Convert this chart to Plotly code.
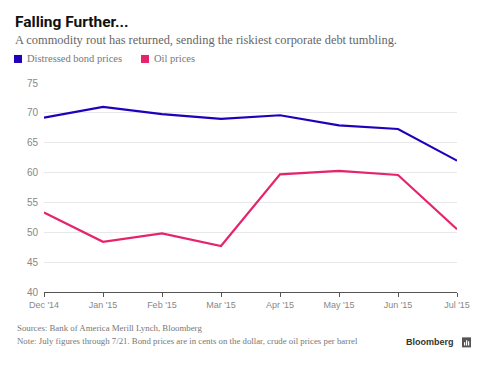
import plotly.graph_objects as go

months = ["Dec '14", "Jan '15", "Feb '15", "Mar '15", "Apr '15", "May '15", "Jun '15", "Jul '15"]
bond_prices = [69.2, 71.0, 69.8, 69.0, 69.6, 67.9, 67.3, 62.0]
oil_prices = [53.3, 48.4, 49.8, 47.7, 59.7, 60.3, 59.6, 50.5]
y_ticks = [40, 45, 50, 55, 60, 65, 70, 75]

BLUE = "#2200BB"
PINK = "#E5246C"

# page body has an 8px margin; work in reference (window) coordinates
OFF = 8
W, H = 488 - OFF, 365 - OFF
PL, PR, PT, PB = 44, 457, 83, 291.7   # plot area in window coords
L, T = PL - OFF, PT - OFF
R, B = W - (PR - OFF), H - (PB - OFF)
PW, PH = PR - PL, PB - PT

def px(x):
    return (x - PL) / PW

def py(y):
    return (PB - y) / PH

x_idx = list(range(len(months)))

fig = go.Figure()
fig.add_trace(go.Scatter(x=x_idx, y=bond_prices, mode="lines", name="Distressed bond prices",
                         line=dict(color=BLUE, width=2.2), hoverinfo="skip"))
fig.add_trace(go.Scatter(x=x_idx, y=oil_prices, mode="lines", name="Oil prices",
                         line=dict(color=PINK, width=2.2), hoverinfo="skip"))

serif = "Liberation Serif, DejaVu Serif, serif"
sans = "Liberation Sans, Arial, sans-serif"

annotations = [
    dict(text="<b>Falling Further...</b>", x=px(13), y=py(22), xanchor="left", yanchor="middle",
         font=dict(family="Roboto, Liberation Sans, sans-serif", size=15.5, color="#111")),
    dict(text="A commodity rout has returned, sending the riskiest corporate debt tumbling.",
         x=px(13), y=py(40), xanchor="left", yanchor="middle",
         font=dict(family=serif, size=12.4, color="#666")),
    dict(text="Distressed bond prices", x=px(25), y=py(59), xanchor="left", yanchor="middle",
         font=dict(family=serif, size=10.5, color="#777")),
    dict(text="Oil prices", x=px(152), y=py(59), xanchor="left", yanchor="middle",
         font=dict(family=serif, size=10.5, color="#777")),
    dict(text="Sources: Bank of America Merill Lynch, Bloomberg", x=px(15), y=py(328),
         xanchor="left", yanchor="middle", font=dict(family=serif, size=8.8, color="#777")),
    dict(text="Note: July figures through 7/21. Bond prices are in cents on the dollar, crude oil prices per barrel",
         x=px(15), y=py(341), xanchor="left", yanchor="middle", font=dict(family=serif, size=8.8, color="#777")),
    dict(text="<b>Bloomberg</b>", x=px(456), y=py(342), xanchor="right", yanchor="middle",
         font=dict(family=sans, size=9, color="#333")),
]
for a in annotations:
    a.update(xref="paper", yref="paper", showarrow=False)

shapes = [
    dict(type="rect", xref="paper", yref="paper", x0=px(14), x1=px(22), y0=py(63), y1=py(55),
         fillcolor=BLUE, line=dict(width=0)),
    dict(type="rect", xref="paper", yref="paper", x0=px(141), x1=px(149), y0=py(63), y1=py(55),
         fillcolor=PINK, line=dict(width=0)),
    dict(type="rect", xref="paper", yref="paper", x0=px(462), x1=px(471), y0=py(347), y1=py(337),
         fillcolor="#555", line=dict(width=0)),
]
# tiny white bars inside the logo square
for bx, top in [(464, 342), (466, 340), (468, 341)]:
    shapes.append(dict(type="rect", xref="paper", yref="paper", x0=px(bx), x1=px(bx + 1.2),
                       y0=py(345), y1=py(top), fillcolor="white", line=dict(width=0)))

fig.update_layout(
    width=W, height=H,
    margin=dict(l=L, r=R, t=T, b=B),
    paper_bgcolor="white", plot_bgcolor="white",
    showlegend=False,
    annotations=annotations,
    shapes=shapes,
    xaxis=dict(
        range=[0, 7], tickmode="array", tickvals=x_idx, ticktext=months,
        showgrid=False, zeroline=False, showline=True, linecolor="#555", linewidth=1,
        ticks="outside", ticklen=4, tickcolor="#555",
        tickfont=dict(family=sans, size=9, color="#888"), fixedrange=True,
    ),
    yaxis=dict(
        range=[40, 75], tickmode="array", tickvals=y_ticks,
        showgrid=True, gridcolor="#E8E8E8", gridwidth=1, zeroline=False, showline=False,
        ticks="", ticklabelstandoff=5,
        tickfont=dict(family=sans, size=10, color="#888"), fixedrange=True,
    ),
)

fig.write_html("out.html")
